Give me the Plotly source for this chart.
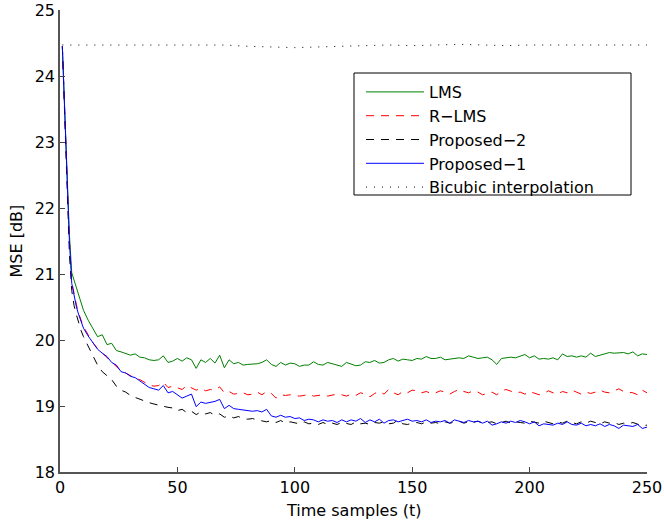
import plotly.graph_objects as go

# sample positions (time samples)
t = list(range(1, 11)) + list(range(12, 251, 2))

lms = [24.45, 23.45, 22.50, 21.60, 21.02, 20.90, 20.78, 20.66, 20.55, 20.45,
       20.30, 20.17, 20.05, 20.08, 19.93, 19.95, 19.84, 19.82, 19.80, 19.77,
       19.79, 19.74, 19.73, 19.70, 19.69, 19.70, 19.76, 19.66, 19.68, 19.72,
       19.68, 19.73, 19.70, 19.57, 19.70, 19.66, 19.72, 19.65, 19.77, 19.58,
       19.70, 19.64, 19.66, 19.62, 19.63, 19.63, 19.64, 19.66, 19.70, 19.63,
       19.60, 19.66, 19.62, 19.65, 19.64, 19.60, 19.62, 19.62, 19.67, 19.63,
       19.62, 19.66, 19.64, 19.63, 19.60, 19.66, 19.64, 19.61, 19.62, 19.67,
       19.66, 19.69, 19.65, 19.66, 19.70, 19.72, 19.68, 19.71, 19.70, 19.69,
       19.72, 19.71, 19.75, 19.72, 19.72, 19.74, 19.70, 19.71, 19.73, 19.73,
       19.72, 19.76, 19.74, 19.72, 19.73, 19.74, 19.70, 19.63, 19.72, 19.73,
       19.74, 19.73, 19.75, 19.78, 19.73, 19.76, 19.71, 19.72, 19.71, 19.73,
       19.70, 19.79, 19.75, 19.76, 19.74, 19.76, 19.74, 19.80, 19.75, 19.77,
       19.79, 19.81, 19.80, 19.80, 19.81, 19.79, 19.82, 19.76, 19.79, 19.78]

rlms = [24.45, 23.42, 22.45, 21.50, 20.88, 20.68, 20.53, 20.40, 20.30, 20.20,
        20.08, 19.96, 19.87, 19.80, 19.74, 19.66, 19.60, 19.53, 19.50, 19.46,
        19.42, 19.40, 19.36, 19.32, 19.30, 19.31, 19.36, 19.28, 19.30, 19.27,
        19.25, 19.31, 19.27, 19.24, 19.27, 19.23, 19.25, 19.24, 19.29, 19.20,
        19.22, 19.18, 19.19, 19.20, 19.17, 19.18, 19.21, 19.17, 19.22, 19.19,
        19.12, 19.17, 19.16, 19.17, 19.16, 19.15, 19.16, 19.18, 19.15, 19.16,
        19.17, 19.15, 19.16, 19.18, 19.17, 19.15, 19.18, 19.16, 19.20, 19.18,
        19.14, 19.19, 19.22, 19.18, 19.25, 19.20, 19.17, 19.22, 19.20, 19.24,
        19.23, 19.20, 19.22, 19.19, 19.20, 19.23, 19.21, 19.18, 19.22, 19.25,
        19.22, 19.20, 19.23, 19.21, 19.17, 19.19, 19.21, 19.17, 19.23, 19.25,
        19.22, 19.20, 19.21, 19.18, 19.22, 19.20, 19.17, 19.19, 19.23, 19.20,
        19.18, 19.22, 19.20, 19.24, 19.21, 19.18, 19.21, 19.19, 19.21, 19.24,
        19.21, 19.20, 19.23, 19.26, 19.22, 19.21, 19.20, 19.17, 19.24, 19.20]

proposed2 = [24.45, 23.30, 22.25, 21.30, 20.75, 20.52, 20.38, 20.25, 20.14, 20.05,
             19.90, 19.76, 19.62, 19.52, 19.46, 19.40, 19.30, 19.24, 19.21, 19.16,
             19.13, 19.10, 19.07, 19.05, 19.03, 19.01, 19.00, 18.98, 18.97, 18.93,
             18.95, 18.90, 18.92, 18.87, 18.91, 18.88, 18.90, 18.86, 18.88, 18.83,
             18.85, 18.82, 18.84, 18.81, 18.80, 18.81, 18.79, 18.78, 18.76, 18.78,
             18.75, 18.78, 18.74, 18.76, 18.75, 18.73, 18.76, 18.73, 18.74, 18.72,
             18.75, 18.72, 18.74, 18.72, 18.75, 18.73, 18.72, 18.76, 18.73, 18.74,
             18.72, 18.75, 18.74, 18.76, 18.73, 18.74, 18.79, 18.73, 18.72, 18.74,
             18.75, 18.73, 18.76, 18.74, 18.75, 18.73, 18.76, 18.74, 18.75, 18.77,
             18.74, 18.76, 18.75, 18.77, 18.74, 18.75, 18.76, 18.73, 18.75, 18.77,
             18.74, 18.76, 18.75, 18.74, 18.77, 18.76, 18.74, 18.77, 18.75, 18.73,
             18.76, 18.74, 18.77, 18.75, 18.73, 18.76, 18.74, 18.77, 18.75, 18.73,
             18.76, 18.74, 18.75, 18.72, 18.74, 18.73, 18.75, 18.72, 18.70, 18.71]

proposed1 = [24.45, 23.42, 22.45, 21.50, 20.86, 20.66, 20.50, 20.38, 20.28, 20.18,
             20.06, 19.95, 19.86, 19.80, 19.75, 19.66, 19.62, 19.52, 19.50, 19.45,
             19.43, 19.38, 19.33, 19.28, 19.26, 19.24, 19.31, 19.20, 19.22, 19.17,
             19.12, 19.15, 19.18, 18.99, 19.06, 19.04, 19.05, 19.07, 19.10, 18.96,
             19.01, 18.96, 18.95, 18.94, 18.93, 18.92, 18.93, 18.91, 18.95, 18.85,
             18.83, 18.86, 18.83, 18.84, 18.81, 18.82, 18.78, 18.80, 18.79, 18.76,
             18.79, 18.77, 18.78, 18.75, 18.79, 18.76, 18.79, 18.77, 18.81, 18.75,
             18.79, 18.76, 18.80, 18.74, 18.78, 18.79, 18.76, 18.78, 18.80, 18.77,
             18.78, 18.76, 18.79, 18.75, 18.77, 18.76, 18.78, 18.74, 18.79, 18.77,
             18.75, 18.78, 18.76, 18.77, 18.74, 18.77, 18.71, 18.73, 18.76, 18.74,
             18.77, 18.75, 18.78, 18.76, 18.73, 18.76, 18.70, 18.73, 18.72, 18.71,
             18.74, 18.72, 18.76, 18.72, 18.71, 18.74, 18.70, 18.72, 18.70, 18.73,
             18.69, 18.72, 18.70, 18.66, 18.71, 18.70, 18.69, 18.72, 18.66, 18.68]

t_bicubic = [1] + list(range(10, 251, 10))
bicubic = [24.47, 24.47, 24.47, 24.46, 24.47, 24.47, 24.46, 24.47, 24.45, 24.44,
           24.43, 24.44, 24.45, 24.46, 24.47, 24.46, 24.47, 24.48, 24.47, 24.46,
           24.47, 24.47, 24.48, 24.47, 24.47, 24.47]

x_ticks = [0, 50, 100, 150, 200, 250]
y_ticks = [18, 19, 20, 21, 22, 23, 24, 25]

FONT = "DejaVu Sans, Liberation Sans, Arial, sans-serif"
FS = 16

# layout geometry (pixels)
W, H = 664, 524
ML, MR, MT, MB = 60, 17, 10, 52
PW, PH = W - ML - MR, H - MT - MB


def px_x(p):
    return (p - ML) / PW


def px_y(p):
    return (H - MB - p) / PH


fig = go.Figure()
fig.add_trace(go.Scatter(x=t, y=lms, mode="lines", name="LMS",
                         line=dict(color="#008000", width=1)))
fig.add_trace(go.Scatter(x=t, y=rlms, mode="lines", name="R\u2212LMS",
                         line=dict(color="#ff0000", width=1, dash="8px,7px")))
fig.add_trace(go.Scatter(x=t, y=proposed2, mode="lines", name="Proposed\u22122",
                         line=dict(color="#000000", width=1, dash="8px,7px")))
fig.add_trace(go.Scatter(x=t, y=proposed1, mode="lines", name="Proposed\u22121",
                         line=dict(color="#0000ff", width=1)))
fig.add_trace(go.Scatter(x=t_bicubic, y=bicubic, mode="lines", name="Bicubic interpolation",
                         line=dict(color="#000000", width=1, dash="1px,7px")))

# legend frame
fig.add_shape(type="rect", xref="paper", yref="paper",
              x0=px_x(354), x1=px_x(631), y0=px_y(195), y1=px_y(73),
              line=dict(color="#000000", width=1), fillcolor="white", layer="above")

fig.add_annotation(text="Time samples (t)", xref="paper", yref="paper",
                   x=0.5, y=px_y(510), xanchor="center", yanchor="middle",
                   showarrow=False, font=dict(family=FONT, size=FS))
fig.add_annotation(text="MSE [dB]", xref="paper", yref="paper",
                   x=px_x(15.5), y=0.5, xanchor="center", yanchor="middle",
                   textangle=-90, showarrow=False, font=dict(family=FONT, size=FS))

fig.update_layout(
    width=W, height=H,
    margin=dict(l=ML, r=MR, t=MT, b=MB),
    paper_bgcolor="white", plot_bgcolor="white",
    font=dict(family=FONT, size=FS, color="#000000"),
    showlegend=True,
    legend=dict(x=px_x(361), y=px_y(75), xanchor="left", yanchor="top",
                bgcolor="rgba(0,0,0,0)", borderwidth=0,
                font=dict(family=FONT, size=FS), itemwidth=58,
                tracegroupgap=0),
    xaxis=dict(range=[0, 250], tickvals=x_ticks, ticks="inside", ticklen=5,
               tickcolor="#444", showline=True, linecolor="#555", linewidth=1.5,
               showgrid=False, zeroline=False, mirror=False, automargin=False,
               tickfont=dict(size=FS)),
    yaxis=dict(range=[18, 25], tickvals=y_ticks, ticks="inside", ticklen=5,
               tickcolor="#444", showline=True, linecolor="#555", linewidth=1.5,
               showgrid=False, zeroline=False, mirror=False, automargin=False,
               tickfont=dict(size=FS)),
)

fig.write_html("out.html", config={"displayModeBar": False},
               post_script="document.body.style.margin='0';")
